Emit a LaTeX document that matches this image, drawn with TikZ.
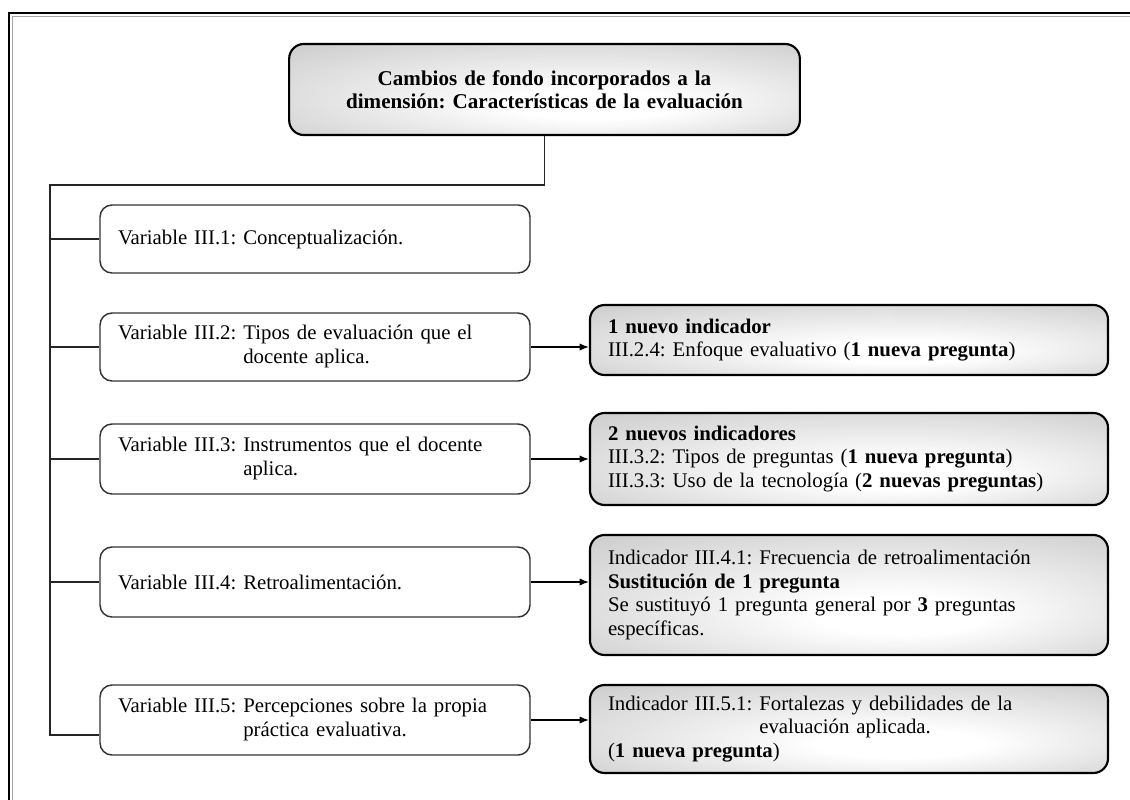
\documentclass[tikz,border=0pt]{standalone}
\usepackage{fontspec}
\setmainfont{Liberation Serif}
\usetikzlibrary{arrows.meta,calc}

% soft grey glow used to fill the shaded boxes
\pgfdeclareradialshading{boxglow}{\pgfpoint{6bp}{-10bp}}{%
  color(0bp)=(white); color(8bp)=(white);
  color(40bp)=(gray!42); color(50bp)=(gray!42)}

\newcommand{\boxfont}{\fontsize{15.6}{17.6}\selectfont\frenchspacing}

\tikzset{
  varbox/.style={draw=black!80, line width=1.1pt, rounded corners=9pt,
    fill=white, align=left, text width=295.5pt, inner xsep=13.5pt,
    inner ysep=0pt, minimum height=#1},
  indbox/.style={draw=black, line width=1.6pt, rounded corners=11pt,
    shading=boxglow, align=left, text width=361.5pt, inner xsep=13.5pt,
    inner ysep=0pt, minimum height=#1},
  titlebox/.style={draw=black, line width=1.6pt, rounded corners=11pt,
    shading=boxglow, align=center, text width=356pt, inner xsep=13.5pt,
    inner ysep=0pt, minimum height=68.25pt,
    font=\fontsize{15.8}{17.4}\selectfont\frenchspacing\bfseries},
  link/.style={draw=black!85, line width=0.95pt},
  feed/.style={draw=black, line width=1.1pt,
    -{Latex[length=7pt,width=5.5pt]}},
}

\begin{document}
\begin{tikzpicture}[x=0.75pt, y=-0.75pt, font=\boxfont]
  \useasboundingbox (0,0) rectangle (1130,799);
  \clip (0,0) rectangle (1130,799);
  \fill[white] (0,0) rectangle (1130,799);

  % double page frame, running off the right and bottom edges
  \draw[black, line width=1.4pt] (9,820) -- (9,13) -- (1150,13);
  \draw[gray!70, line width=1.1pt] (12.5,820) -- (12.5,16.5) -- (1150,16.5);

  % heading
  \node[titlebox] (title) at (544.5,89.5)
    {Cambios de fondo incorporados a la\\
     dimensión: Características de la evaluación};

  % variables
  \node[varbox=51pt] (v1) at (315,239) {Variable III.1: Conceptualización.};
  \node[varbox=51pt] (v2) at (315,347)
    {\begin{tabular}{@{}l@{\ }l@{}}Variable III.2: & Tipos de evaluación que el\\
      & docente aplica.\end{tabular}};
  \node[varbox=52.5pt] (v3) at (315,459)
    {\begin{tabular}{@{}l@{\ }l@{}}Variable III.3: & Instrumentos que el docente\\
      & aplica.\end{tabular}};
  \node[varbox=52.5pt] (v4) at (315,582) {Variable III.4: Retroalimentación.};
  \node[varbox=52.5pt] (v5) at (315,720)
    {\begin{tabular}{@{}l@{\ }l@{}}Variable III.5: & Percepciones sobre la propia\\
      & práctica evaluativa.\end{tabular}};

  % changes made to each variable
  \node[indbox=52.5pt] (i2) at (849,340)
    {\textbf{1 nuevo indicador}\\
     III.2.4: Enfoque evaluativo (\textbf{1 nueva pregunta})};
  \node[indbox=69pt] (i3) at (849,459)
    {\textbf{2 nuevos indicadores}\\
     III.3.2: Tipos de preguntas (\textbf{1 nueva pregunta})\\
     III.3.3: Uso de la tecnología (\textbf{2 nuevas preguntas})};
  \node[indbox=90pt] (i4) at (849,595)
    {Indicador III.4.1: Frecuencia de retroalimentación\\
     \textbf{Sustitución de 1 pregunta}\\
     Se sustituyó 1 pregunta general por \textbf{3} preguntas\\
     específicas.};
  \node[indbox=66pt] (i5) at (849,729)
    {\begin{tabular}{@{}l@{\ }l@{}}Indicador III.5.1: & Fortalezas y debilidades de la\\
      & evaluación aplicada.\\
      \multicolumn{2}{@{}l@{}}{(\textbf{1 nueva pregunta})}\end{tabular}};

  % tree from the heading down to the variables
  \coordinate (trunktop) at (50,185);
  \coordinate (trunkend) at (50,735);
  \draw[link] (title.south) |- (trunktop) -- (trunkend) -- (trunkend -| v5.west);
  \foreach \v in {v1,v2,v3,v4}
    \draw[link] (\v.west -| trunktop) -- (\v.west);

  % arrows to the changes
  \draw[feed] (v2.east) -- (v2.east -| i2.west);
  \draw[feed] (v3.east) -- (v3.east -| i3.west);
  \draw[feed] (v4.east) -- (v4.east -| i4.west);
  \draw[feed] (v5.east) -- (v5.east -| i5.west);
\end{tikzpicture}
\end{document}
